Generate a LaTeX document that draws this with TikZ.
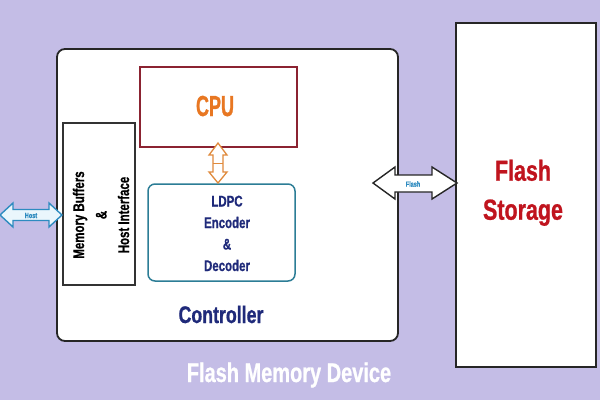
\documentclass[tikz,border=0pt]{standalone}
\usepackage{fontspec}
\setmainfont[FakeStretch=0.74, BoldFeatures={FakeBold=0.8}]{Liberation Sans}
\newfontfamily\cpufont[FakeStretch=0.62, BoldFeatures={FakeBold=0.8}]{Liberation Sans}
\definecolor{bg}{HTML}{C4BDE6}
\definecolor{cpuborder}{HTML}{8B2331}
\definecolor{cputext}{HTML}{E87722}
\definecolor{ldpcborder}{HTML}{2C7D96}
\definecolor{navy}{HTML}{1F2A7A}
\definecolor{storagered}{HTML}{C0141E}
\definecolor{hostblue}{HTML}{2E8BC0}
\definecolor{hostfill}{HTML}{EAF6FC}
\definecolor{arroworange}{HTML}{E08A3C}
\tikzset{
  box/.style={anchor=north west, inner sep=0pt, outer sep=0pt, fill=white},
  lbl/.style={anchor=base, inner sep=0pt, font=\bfseries},
}
\begin{document}
\begin{tikzpicture}[x=1pt,y=-1pt]
\fill[bg] (0,0) rectangle (600,400);
\useasboundingbox (0,0) rectangle (600,400);

% outer controller box
\node[box, draw=black!85, line width=1.8pt, rounded corners=8pt,
  minimum width=341pt, minimum height=292pt] (ctrl) at (57,49) {};
% flash storage
\node[box, draw=black!85, line width=1.6pt,
  minimum width=140pt, minimum height=344pt] (storage) at (456,23) {};
% CPU
\node[box, draw=cpuborder, line width=1.3pt,
  minimum width=157pt, minimum height=80pt] (cpu) at (140,67) {};
% LDPC
\node[box, draw=ldpcborder, line width=1.5pt, rounded corners=7pt,
  minimum width=147pt, minimum height=97pt] (ldpc) at (148,184) {};
% memory buffers
\node[box, draw=black!80, line width=1.2pt,
  minimum width=72pt, minimum height=162pt] (membuf) at (63,123) {};

% texts
\node[lbl, text=cputext, font=\cpufont\bfseries\fontsize{29}{29}\selectfont] (cputxt) at (215,116) {CPU};
\node[anchor=north, inner sep=0pt, text=navy, align=center,
  font=\bfseries\fontsize{15.5}{21.5}\selectfont] (ldpctxt) at (227,195.5)
  {LDPC\\Encoder\\\&\\Decoder};
\node[lbl, text=navy, font=\bfseries\fontsize{24}{24}\selectfont] (ctrltxt) at (221,323) {Controller};
\node[lbl, text=white, font=\bfseries\fontsize{27}{27}\selectfont] (devtxt) at (289,382) {Flash Memory Device};
\node[anchor=north, inner sep=0pt, text=storagered, align=center,
  font=\bfseries\fontsize{29}{39}\selectfont] (stortxt) at (523,159.5) {Flash\\Storage};
\node[rotate=90, inner sep=0pt, text=black, align=center,
  font=\bfseries\fontsize{15.5}{22.5}\selectfont] (memtxt) at (101,215) {Memory Buffers\\\&\\Host Interface};

% host arrow
\draw[hostblue, fill=hostfill, line width=1.4pt, line join=miter]
  (0,215) -- (13,203) -- (13,209.5) -- (49,209.5) -- (49,203) -- (62,215)
  -- (49,227) -- (49,220.5) -- (13,220.5) -- (13,227) -- cycle;
\node[text=hostblue, inner sep=0pt, font=\bfseries\fontsize{7.5}{7.5}\selectfont] (hostlbl) at (31,215.5) {Host};

% flash arrow
\draw[black!85, fill=white, line width=1.4pt, line join=miter]
  (373,183) -- (395,167) -- (395,175) -- (432,175) -- (432,167) -- (457,183)
  -- (432,199) -- (432,192) -- (395,192) -- (395,199) -- cycle;
\node[text=hostblue, inner sep=0pt, font=\bfseries\fontsize{7.5}{7.5}\selectfont] (flashlbl) at (413,184) {Flash};

% cpu-ldpc arrow
\draw[arroworange, fill=white, line width=1.3pt, line join=miter]
  (218,143) -- (227,155) -- (223,155) -- (223,172) -- (227,172) -- (218,183)
  -- (209,172) -- (213,172) -- (213,155) -- (209,155) -- cycle;
\draw[arroworange, line width=1.1pt] (213,163.5) -- (223,163.5);
\end{tikzpicture}
\end{document}
